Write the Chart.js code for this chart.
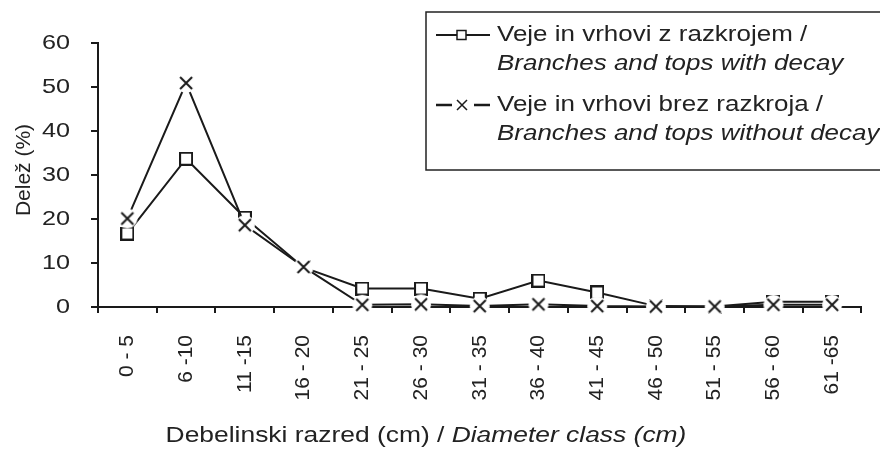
<!DOCTYPE html>
<html>
<head>
<meta charset="utf-8">
<script src="https://cdn.jsdelivr.net/npm/chart.js@4.4.1/dist/chart.umd.min.js"></script>
<style>
  html, body { margin: 0; padding: 0; background: #fff; }
  #wrap { position: relative; width: 880px; height: 465px; }
</style>
</head>
<body>
<div id="wrap"><canvas id="c" width="880" height="465"></canvas></div>
<script>
// ---- data ----
const categories = ['0 - 5', '6 -10', '11 -15', '16 - 20', '21 - 25', '26 - 30', '31 - 35',
                    '36 - 40', '41 - 45', '46 - 50', '51 - 55', '56 - 60', '61 -65'];
const withDecay    = [16.7, 33.7, 20.3, 9.0, 4.2, 4.2, 1.9, 6.0, 3.3, 0.2, 0.1, 1.2, 1.2];
const withoutDecay = [20.1, 50.9, 18.6, 9.1, 0.5, 0.6, 0.2, 0.6, 0.2, 0.1, 0.1, 0.5, 0.5];
const yTicks = [0, 10, 20, 30, 40, 50, 60];
const seriesNames = [
  ['Veje in vrhovi z razkrojem /', 'Branches and tops with decay'],
  ['Veje in vrhovi brez razkroja /', 'Branches and tops without decay']
];
const xTitle = ['Debelinski razred (cm) / ', 'Diameter class (cm)'];
const yTitle = 'Delež (%)';

const FONT = '"Liberation Sans", Arial, Helvetica, sans-serif';
const INK = '#1a1a1a';
const TXT = '#222';
const SX = 1.2;   // horizontal text stretch seen in the reference
const SXL = 1.18; // legend text stretch

// point images
function squareImg() {
  const c = document.createElement('canvas'); c.width = 14; c.height = 14;
  const g = c.getContext('2d');
  g.fillStyle = '#fff'; g.fillRect(1, 1, 12, 12);
  g.strokeStyle = INK; g.lineWidth = 2; g.strokeRect(1, 1, 12, 12);
  return c;
}
function crossImg() {
  const c = document.createElement('canvas'); c.width = 22; c.height = 22;
  const g = c.getContext('2d');
  g.fillStyle = '#fff'; g.beginPath(); g.arc(11, 11, 10, 0, Math.PI * 2); g.fill();
  g.strokeStyle = INK; g.lineWidth = 2; g.beginPath();
  g.moveTo(5, 5); g.lineTo(17, 17); g.moveTo(17, 5); g.lineTo(5, 17); g.stroke();
  return c;
}

// draw the y scale's own tick label items with the horizontal stretch
const stretchTicks = {
  id: 'stretchTicks',
  beforeDraw(chart) {
    const sc = chart.scales.y;
    if (!sc || sc._stretched) return;
    sc._stretched = true;
    sc.drawLabels = function (chartArea) {
      const ctx = this.ctx;
      const items = this.getLabelItems(chartArea);
      for (const it of items) {
        const o = it.options;
        ctx.save();
        ctx.translate(o.translation[0], o.translation[1]);
        ctx.scale(SX, 1);
        if (o.rotation) ctx.rotate(o.rotation);
        ctx.font = it.font.string;
        ctx.fillStyle = o.color;
        ctx.textAlign = o.textAlign;
        ctx.textBaseline = o.textBaseline;
        const lines = Array.isArray(it.label) ? it.label : [it.label];
        lines.forEach((ln, k) => ctx.fillText(ln, 0, it.textOffset + k * it.font.lineHeight));
        ctx.restore();
      }
    };
  }
};

const decor = {
  id: 'decor',
  afterDraw(chart) {
    const ctx = chart.ctx;
    ctx.save();
    ctx.fillStyle = TXT;
    // y title
    ctx.font = '21px ' + FONT;
    ctx.textAlign = 'center'; ctx.textBaseline = 'middle';
    ctx.translate(24, 170); ctx.rotate(-Math.PI / 2);
    ctx.fillText(yTitle, 0, 0);
    ctx.setTransform(1, 0, 0, 1, 0, 0);
    // x title
    ctx.textBaseline = 'alphabetic'; ctx.textAlign = 'left';
    const fN = '22px ' + FONT, fI = 'italic 22px ' + FONT;
    ctx.font = fN; const w1 = ctx.measureText(xTitle[0]).width;
    ctx.font = fI; const w2 = ctx.measureText(xTitle[1]).width;
    ctx.save();
    ctx.translate(426, 442); ctx.scale(SX, 1);
    const x0 = -(w1 + w2) / 2;
    ctx.font = fN; ctx.fillText(xTitle[0], x0, 0);
    ctx.font = fI; ctx.fillText(xTitle[1], x0 + w1, 0);
    ctx.restore();
    // legend box
    ctx.strokeStyle = '#222'; ctx.lineWidth = 1.5;
    ctx.strokeRect(426, 12, 470, 158);
    const rows = [[35, 64], [105, 134]];
    ctx.textBaseline = 'middle'; ctx.fillStyle = TXT;
    for (let i = 0; i < 2; i++) {
      ctx.save(); ctx.translate(497, 0); ctx.scale(SXL, 1);
      ctx.font = '22px ' + FONT;
      ctx.fillText(seriesNames[i][0], 0, rows[i][0]);
      ctx.font = 'italic 22px ' + FONT;
      ctx.fillText(seriesNames[i][1], 0, rows[i][1]);
      ctx.restore();
    }
    // samples
    ctx.strokeStyle = INK; ctx.lineWidth = 2;
    let y = 35;
    ctx.beginPath(); ctx.moveTo(436, y); ctx.lineTo(490, y); ctx.stroke();
    ctx.fillStyle = '#fff'; ctx.fillRect(457, y - 4.5, 9, 9);
    ctx.lineWidth = 1.5; ctx.strokeRect(457, y - 4.5, 9, 9);
    y = 105; ctx.lineWidth = 2.5;
    ctx.beginPath(); ctx.moveTo(436, y); ctx.lineTo(452, y); ctx.moveTo(474, y); ctx.lineTo(490, y); ctx.stroke();
    ctx.lineWidth = 1.5; ctx.beginPath();
    ctx.moveTo(457, y - 5); ctx.lineTo(467, y + 5); ctx.moveTo(467, y - 5); ctx.lineTo(457, y + 5); ctx.stroke();
    ctx.restore();
  }
};

new Chart(document.getElementById('c'), {
  type: 'line',
  data: {
    labels: categories,
    datasets: [
      {
        label: seriesNames[1].join(' '), data: withoutDecay, order: 0,
        borderColor: INK, borderWidth: 2, pointStyle: crossImg(), pointRadius: 6,
        fill: false, tension: 0, clip: false
      },
      {
        label: seriesNames[0].join(' '), data: withDecay, order: 1,
        borderColor: INK, borderWidth: 2, pointStyle: squareImg(), pointRadius: 6,
        fill: false, tension: 0, clip: false
      }
    ]
  },
  options: {
    responsive: false, animation: false, devicePixelRatio: 1,
    layout: { padding: { left: 0, top: 43, right: 18, bottom: 0 } },
    plugins: { legend: { display: false }, tooltip: { enabled: false }, title: { display: false } },
    scales: {
      x: {
        type: 'category', offset: true,
        grid: { offset: true, drawOnChartArea: false, drawTicks: true, tickLength: 6, color: INK, lineWidth: 2 },
        border: { display: true, color: INK, width: 2 },
        ticks: { autoSkip: false, maxRotation: 90, minRotation: 90, padding: 22, color: TXT,
                 font: { family: FONT, size: 21 } },
        afterFit(s) { s.height = 465 - 307; }
      },
      y: {
        min: 0, max: 60,
        afterBuildTicks(s) { s.ticks = yTicks.map(v => ({ value: v })); },
        grid: { drawOnChartArea: false, drawTicks: true, tickLength: 7, color: INK, lineWidth: 2 },
        border: { display: true, color: INK, width: 2 },
        ticks: { padding: 21, color: TXT, font: { family: FONT, size: 21 } },
        afterFit(s) { s.width = 98; }
      }
    }
  },
  plugins: [stretchTicks, decor]
});
</script>
</body>
</html>
